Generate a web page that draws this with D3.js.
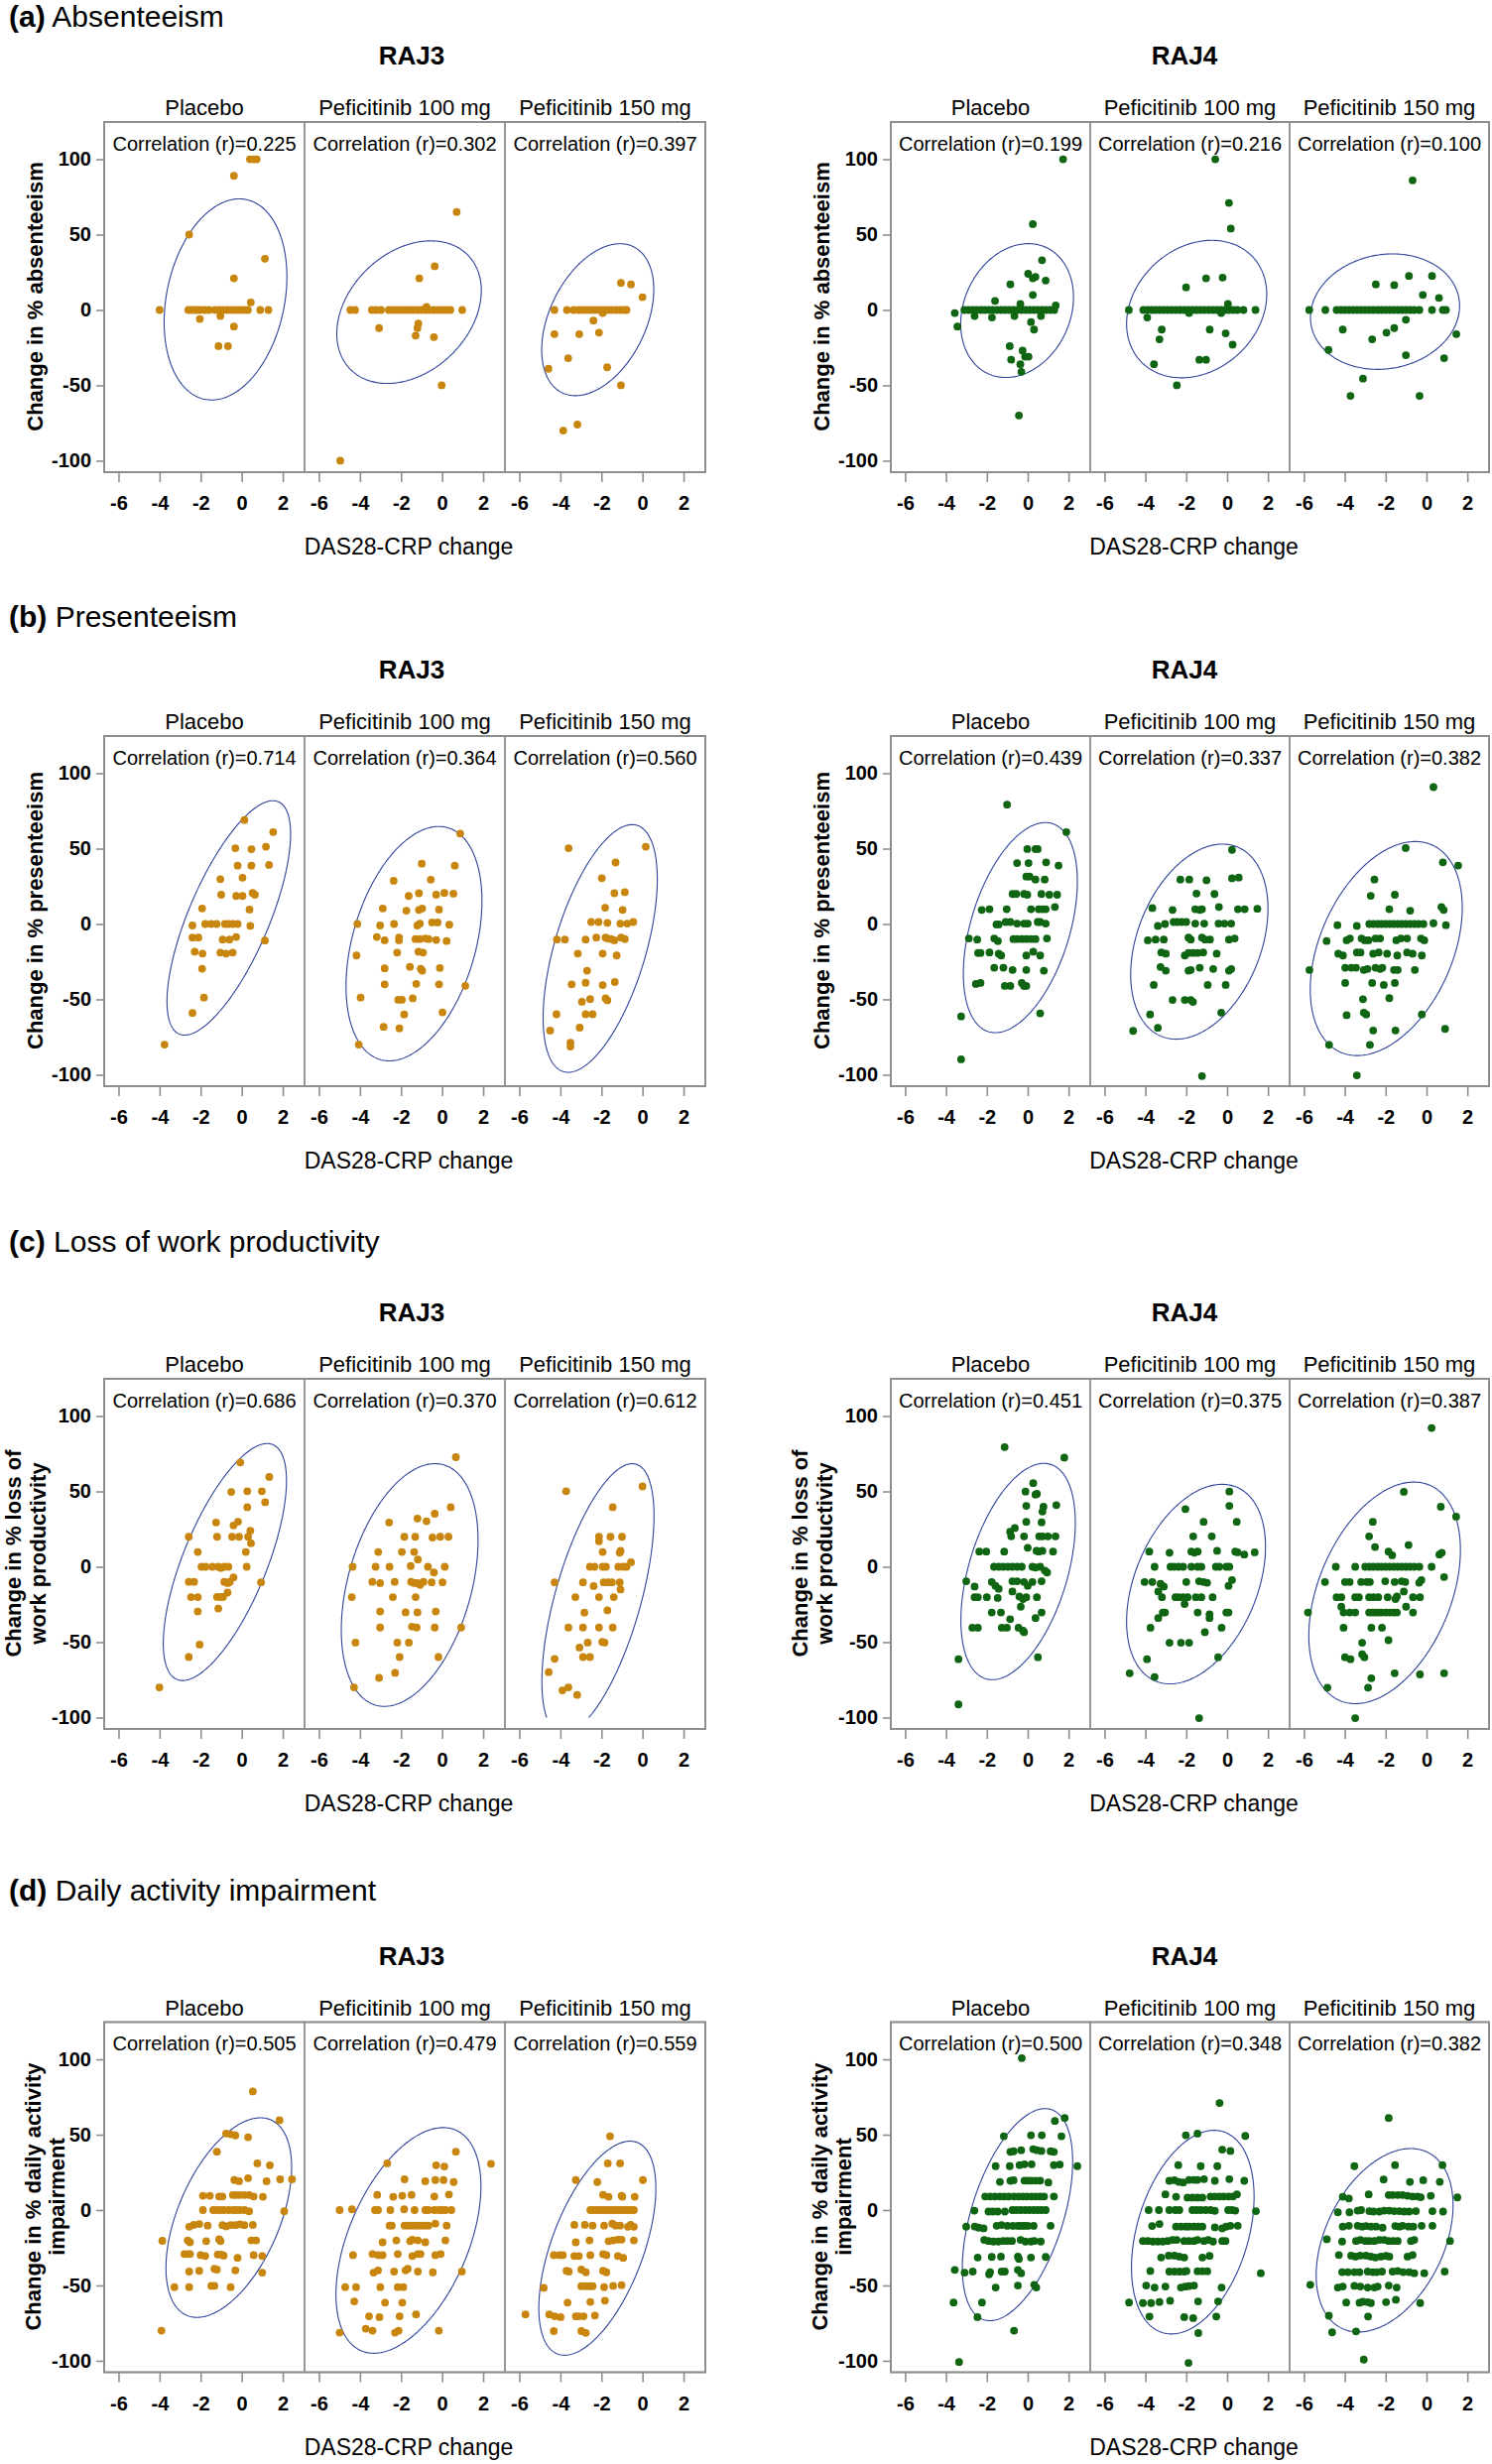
<!DOCTYPE html>
<html><head><meta charset="utf-8">
<script src="https://cdn.jsdelivr.net/npm/d3@7"></script>
<style>
body{margin:0;background:#fff}
svg{display:block}
text{font-family:"Liberation Sans",Arial,Helvetica,sans-serif;fill:#000}
</style>
</head><body>
<svg id="chart" width="1504" height="2484"></svg>
<script>
// ---------------- DATA ----------------
const sectionTags = ["(a)", "(b)", "(c)", "(d)"];
const sectionNames = ["Absenteeism", "Presenteeism", "Loss of work productivity", "Daily activity impairment"];
const yAxisLabels = [
  ["Change in % absenteeism"],
  ["Change in % presenteeism"],
  ["Change in % loss of", "work productivity"],
  ["Change in % daily activity", "impairment"]
];
const studies = ["RAJ3", "RAJ4"];
const arms = ["Placebo", "Peficitinib 100 mg", "Peficitinib 150 mg"];
const xTicks = [-6, -4, -2, 0, 2];
const yTicks = [-100, -50, 0, 50, 100];
const xLabel = "DAS28-CRP change";

// correlations [study][arm]
const corrAbs = [[0.225, 0.302, 0.397], [0.199, 0.216, 0.100]];
const corrPre = [[0.714, 0.364, 0.560], [0.439, 0.337, 0.382]];
const corrLwp = [[0.686, 0.370, 0.612], [0.451, 0.375, 0.387]];
const corrDai = [[0.505, 0.479, 0.559], [0.500, 0.348, 0.382]];

// ellipses: [centre x, centre y, half-width x, half-height y]
const ellAbs3 = [[-0.79, 7, 2.99, 66.7], [-1.61, -1.45, 3.52, 47.3], [-2.18, -6.45, 2.73, 50.4]];
const ellAbs4 = [[-0.52, -0.4, 2.76, 44.4], [-1.49, 0.6, 3.43, 45.6], [-2.03, -1.1, 3.65, 38.3]];
const ellPre3 = [[-0.63, 4.05, 3.01, 77.75], [-1.37, -13.05, 3.31, 77.75], [-2.06, -16.25, 2.78, 82.15]];
const ellPre4 = [[-0.36, -2.4, 2.79, 69.7], [-1.36, -11.7, 3.36, 64.7], [-1.97, -16.3, 3.72, 71]];
const ellLwp3 = [[-0.82, 3.15, 3.0, 78.6], [-1.58, -12.1, 3.33, 80.5], [-2.17, -21.2, 2.73, 89.6]];
const ellLwp4 = [[-0.47, -3.15, 2.8, 71.75], [-1.52, -11.5, 3.4, 66.2], [-2.05, -17.3, 3.71, 73.5]];
const ellDai3 = [[-0.63, -5, 3.06, 66.2], [-1.64, -20.15, 3.53, 74.85], [-2.2, -25.3, 2.85, 71]];
const ellDai4 = [[-0.5, -3.05, 2.7, 70.35], [-1.68, -14.65, 3.0, 67.55], [-2.05, -20.05, 3.35, 60.85]];

// points [DAS28-CRP change, % change]
const absRAJ3Placebo = [[-4.0,0],[-2.56,50],[-0.38,89],[0.4,100],[0.58,100],[0.73,100],[1.13,34],[-0.38,21],[0.44,5],
[-2.6,0],[-2.45,0],[-2.3,0],[-2.15,0],[-2.0,0],[-1.8,0],[-1.6,0],[-1.3,0],[-1.1,0],[-0.9,0],[-0.7,0],[-0.5,0],[-0.3,0],[-0.1,0],[0.1,0],[0.3,0],[0.9,0],[1.3,0],
[-2.04,-6],[-1.04,-4],[-0.38,-11],[-1.13,-24],[-0.67,-24]];
const absRAJ3P100 = [[-4.96,-100],[0.71,65],[-0.36,29],[-1.11,21],
[-4.47,0],[-4.24,0],[-3.42,0],[-3.2,0],[-2.98,0],[-2.6,0],[-2.4,0],[-2.2,0],[-2.0,0],[-1.8,0],[-1.6,0],[-1.4,0],[-1.2,0],[-1.0,0],[-0.8,0],[-0.6,0],[-0.4,0],[-0.2,0],[0,0],[0.2,0],[0.4,0],[0.98,0],
[-0.76,2],[-3.07,-12],[-1.16,-9],[-1.2,-12],[-1.29,-17],[-0.4,-18],[-0.02,-50]];
const absRAJ3P150 = [[-1.05,18],[-0.56,17],[0,8.5],
[-4.29,0],[-3.68,0],[-3.35,0],[-3.1,0],[-2.9,0],[-2.7,0],[-2.5,0],[-2.3,0],[-2.1,0],[-1.9,0],[-1.7,0],[-1.5,0],[-1.3,0],[-1.1,0],[-0.9,0],[-0.78,0],
[-1.94,-2],[-2.39,-7],[-4.29,-16],[-3.08,-16],[-2.12,-15],[-3.62,-32],[-4.58,-39],[-1.72,-38],[-1.05,-50],[-3.86,-80],[-3.17,-76]];
const absRAJ4Placebo = [[1.73,100],[0.25,57],[0.7,33],[0.02,24],[0.25,21],[0.38,22],[0.88,19.5],[-0.85,17],[0.25,10],[-1.6,6],[1.37,3],[-0.36,4],
[-3.1,0],[-2.9,0],[-2.7,0],[-2.5,0],[-2.3,0],[-2.1,0],[-1.9,0],[-1.7,0],[-1.5,0],[-1.3,0],[-1.1,0],[-0.9,0],[-0.7,0],[-0.5,0],[-0.3,0],[-0.1,0],[0.1,0],[0.3,0],[0.5,0],[0.7,0],[0.9,0],[1.1,0],[1.3,0],
[-3.57,-2],[-3.44,-11],[-2.6,-4],[-1.75,-5],[-0.65,-4],[0.65,-4],[0.16,-8],[0.31,-13],[-0.88,-24],[-0.81,-33],[-0.25,-27],[-0.13,-31],[0.04,-31],[-0.36,-36],[-0.31,-41],[-0.43,-70]];
const absRAJ4P100 = [[-0.58,100],[0.09,71],[0.18,54],[-1.03,21],[-0.22,21.5],[-2.01,15],[0.04,4],
[-4.81,0],[-4.1,0],[-3.9,0],[-3.7,0],[-3.5,0],[-3.3,0],[-3.1,0],[-2.9,0],[-2.7,0],[-2.5,0],[-2.3,0],[-2.1,0],[-1.9,0],[-1.7,0],[-1.5,0],[-1.3,0],[-1.1,0],[-0.9,0],[-0.7,0],[-0.5,0],[-0.3,0],[-0.1,0],[0.1,0],[0.3,0],[0.5,0],[0.8,0],[1.39,0],
[-3.91,-5],[-1.86,-2],[-0.29,-2],[-3.2,-13],[-3.31,-19.5],[-0.85,-13],[-0.07,-15.5],[0.27,-23],[-3.58,-36],[-1.36,-33],[-1.03,-33],[-2.46,-50]];
const absRAJ4P150 = [[-0.68,86],[-0.86,22.6],[0.27,22.6],[-2.48,17],[-1.58,16.5],[-0.18,10],[0.61,8],
[-5.74,0],[-4.95,0],[-4.4,0],[-4.2,0],[-4.0,0],[-3.8,0],[-3.6,0],[-3.4,0],[-3.2,0],[-3.0,0],[-2.8,0],[-2.6,0],[-2.4,0],[-2.2,0],[-2.0,0],[-1.8,0],[-1.6,0],[-1.4,0],[-1.2,0],[-1.0,0],[-0.8,0],[-0.6,0],[-0.35,0],[0.27,0],[0.8,0],[0.95,0],
[1.46,-16],[-1.01,-6.5],[-1.58,-12],[-1.96,-15],[-4.1,-13],[-2.66,-19.5],[-4.8,-26.5],[-1.01,-30],[0.86,-32],[-3.11,-45.5],[-3.72,-57],[-0.34,-57]];

const preRAJ3Placebo = [[0.13,69],[1.53,61],[-0.31,50.3],[0.47,49.6],[1.18,51.3],[-0.2,38.7],[0.47,38.7],[1.33,39.2],[-1.04,29.7],[0.04,30.7],[-1.0,19.4],[-0.27,18.6],[0.04,18.6],[0.53,20.6],[0.64,19.4],[-1.93,10.3],[0.38,9.6],[-2.4,-1],[-1.78,0],[-1.49,0],[-1.22,0],[-0.82,0],[-0.64,0],[-0.44,0],[-0.2,0],[0.42,-1.3],[-2.4,-9],[-2.11,-9],[-0.93,-10.3],[-0.6,-10.3],[-0.27,-8.6],[1.13,-11],[-2.29,-18.4],[-1.91,-19.6],[-1.04,-19],[-0.76,-19.6],[-0.44,-19],[-1.93,-29.7],[-1.84,-48.8],[-2.4,-59],[-3.76,-80]];
const preRAJ3P100 = [[0.88,60],[-0.99,40],[0.62,38.7],[-2.36,28.7],[-0.55,29.4],[-1.63,18.6],[-1.13,20.4],[-0.29,19.4],[0.11,20.6],[0.55,20.1],[-2.89,10.3],[-1.74,8.8],[-1.13,9.3],[-0.97,10.3],[-0.15,9.6],[-4.13,0],[-3.02,-1],[-2.34,0],[-1.21,-1],[-1.08,0.3],[-0.49,1],[-0.22,1],[0.35,-0.5],[-3.18,-8.6],[-2.8,-10.8],[-2.1,-9],[-2.1,-10.8],[-1.3,-10],[-1.1,-10],[-0.82,-9.6],[-0.66,-10],[-0.29,-10.6],[0.22,-11.3],[-4.17,-20.9],[-2.19,-19],[-1.15,-18.4],[-0.93,-19],[-2.8,-29.4],[-1.57,-28.4],[-1.04,-29.7],[-0.97,-31],[-0.11,-29.2],[-2.8,-40],[-1.26,-39.7],[-0.15,-40],[1.13,-41],[-3.97,-48.8],[-2.14,-50.3],[-1.96,-50.3],[-1.43,-49.3],[-1.85,-60],[0.02,-58.6],[-2.85,-68.2],[-2.08,-69.2],[-4.06,-80]];
const preRAJ3P150 = [[-3.6,50.3],[0.16,51.3],[-1.31,40.8],[-1.98,30.4],[-1.37,20.4],[-0.86,21.1],[-1.82,10.8],[-0.97,9.3],[-2.5,1.3],[-2.14,1.3],[-1.71,0.8],[-1.08,0.3],[-0.74,0.3],[-0.45,1.3],[-4.17,-10.3],[-3.78,-10.3],[-2.77,-10.3],[-2.25,-9],[-1.8,-9],[-1.71,-9.6],[-1.53,-10],[-1.37,-10.8],[-1.04,-9],[-0.86,-10],[-3.15,-19.6],[-1.94,-19.6],[-1.26,-20.9],[-2.7,-31],[-3.45,-40],[-2.77,-39],[-1.94,-40.5],[-1.35,-38.5],[-2.55,-49.8],[-1.8,-49.3],[-1.71,-50.6],[-2.95,-51.6],[-4.19,-59.9],[-2.77,-59.9],[-2.43,-59.9],[-3.06,-68.7],[-4.5,-70.7],[-3.51,-78.7],[-3.51,-81.3]];
const preRAJ4Placebo = [[-1.01,79.2],[1.89,61],[-3.26,-61.3],[-3.26,-89.8],[0.61,-59.3],[-0.02,49.7],[0.38,49.7],[0.49,49.7],[-0.52,40.4],[0.04,40.4],[0.9,40.9],[1.51,38.8],[-0.07,31.5],[0.09,31.5],[0.38,29.5],[0.83,29.5],[-0.74,19.9],[-0.56,19.9],[-0.18,19.9],[-0.02,19.4],[0.67,19.9],[1.06,19.4],[1.44,19.4],[-2.25,9.3],[-1.87,9.8],[-1.03,9.8],[0.16,9.8],[0.54,9.8],[0.72,9.8],[0.88,9.8],[1.33,11.3],[-1.53,-0.3],[-1.42,-0.3],[-1.08,1.3],[-0.85,1.3],[-0.52,0.3],[-0.18,0.3],[0,0.3],[0.49,1.3],[0.61,1.3],[0.88,0.3],[-2.88,-9.6],[-2.47,-10.3],[-1.64,-9.6],[-1.46,-11.3],[-0.7,-10],[-0.52,-10],[-0.29,-10],[-0.07,-10],[0.16,-10],[0.38,-10],[0.94,-9.6],[-2.43,-19.2],[-2.31,-19.2],[-1.87,-18.9],[-1.42,-19.7],[-1.3,-20.9],[-0.07,-20.9],[0.27,-18.4],[0.61,-20.9],[-1.64,-29],[-1.19,-29],[-0.74,-30.5],[-0.07,-30.5],[0.79,-31],[-2.54,-39.8],[-2.31,-39.1],[-1.12,-41.1],[-0.85,-41.1],[-0.29,-39.1],[-0.18,-41.1],[-0.07,-41.1]];
const preRAJ4P100 = [[0.24,49.2],[0.24,30.3],[0.57,30.8],[-2.29,29.5],[-1.85,29.5],[-1.01,29],[-1.5,20.2],[-0.62,19.9],[-3.66,10.6],[-2.67,9.3],[-1.56,9.8],[-1.34,9.3],[-1.23,9.8],[-0.4,11.3],[0.53,9.8],[0.86,9.8],[1.48,10.1],[-3.39,-1.3],[-3.04,0],[-2.62,1.3],[-2.44,1.3],[-2.22,1.3],[-2.0,1.3],[-1.56,0.3],[-1.12,0.3],[-0.42,0.3],[-0.13,0.3],[0.2,0.3],[-3.88,-10.8],[-3.5,-10.3],[-3.1,-10.3],[-1.89,-9],[-1.78,-10.3],[-1.23,-9],[-1.08,-10.3],[-0.84,-10.3],[0.09,-10.3],[0.37,-9.6],[-3.22,-18.9],[-3.0,-19.7],[-2.07,-20.9],[-1.89,-19.2],[-1.67,-19.2],[-1.45,-19.2],[-1.17,-18.9],[-0.51,-19.7],[-3.26,-28.5],[-3.0,-31],[-1.89,-31],[-1.78,-30.5],[-1.34,-29],[-0.68,-29.8],[0.09,-31],[0.2,-29.8],[-3.59,-40.4],[-0.95,-40.4],[-0.07,-40.4],[-2.67,-50.4],[-2.07,-50.4],[-1.78,-50.4],[-1.67,-51.7],[-3.77,-60],[-0.29,-58.8],[-3.39,-68.9],[-4.6,-70.9],[-1.23,-100.9]];
const preRAJ4P150 = [[0.34,90.8],[-1.02,50.4],[0.8,40.9],[1.55,38.8],[-2.55,29.5],[-2.73,18.7],[-1.55,19.4],[-1.82,9.8],[-0.8,8.8],[0.73,11.3],[0.84,9.3],[-4.36,-0.8],[-3.41,-1.3],[-2.8,0],[-2.6,0],[-2.4,0],[-2.2,0],[-2.0,0],[-1.8,0],[-1.6,0],[-1.4,0],[-1.2,0],[-1.0,0],[-0.8,0],[-0.6,0],[-0.4,0],[-0.15,0],[0.34,0.5],[0.95,-0.8],[-4.89,-11.3],[-3.91,-10.8],[-3.75,-9.6],[-3.18,-9.6],[-3.02,-10.8],[-2.84,-10.8],[-2.5,-9.6],[-2.27,-9.6],[-1.48,-10.8],[-1.25,-9.6],[-0.95,-9.6],[-0.27,-9.6],[-0.11,-10.8],[-4.32,-19.7],[-4.09,-20.9],[-3.41,-18.9],[-3.23,-18.9],[-2.61,-19.7],[-2.34,-18.9],[-1.93,-19.7],[-1.43,-20.9],[-0.95,-18.9],[-0.68,-19.7],[-0.23,-20.9],[-5.73,-30.5],[-3.98,-29],[-3.68,-29],[-3.45,-29],[-3.07,-30.5],[-2.89,-29.8],[-2.5,-29],[-2.27,-29.8],[-2.16,-29],[-1.59,-30.5],[-1.41,-30.5],[-0.57,-30.5],[-3.98,-39.1],[-2.66,-39.1],[-2.09,-40.4],[-1.55,-39.1],[-3.11,-49.9],[-1.82,-49.2],[-3.91,-60.5],[-3.07,-58.8],[-2.95,-60],[-0.23,-60],[-2.61,-70.6],[-1.52,-70.6],[0.91,-69.6],[-4.77,-80.2],[-2.77,-80.2],[-3.41,-100.4]];

const lwpRAJ3Placebo = [[-0.07,69.2],[1.34,59.6],[-0.51,49.6],[0.27,50.1],[0.98,50.1],[1.14,42.8],[0.27,39.5],[-1.25,29.4],[-0.18,29.9],[-0.4,27.4],[0.42,23.9],[-1.2,19.9],[-0.47,19.9],[-0.13,19.9],[0.31,19.9],[-2.58,19.9],[0.45,15.6],[-2.14,9.8],[0.2,9.8],[-1.96,0],[-1.76,0],[-1.43,0],[-1.14,0],[-0.85,0],[-0.65,0],[-1.02,-0.8],[0.24,0],[-2.58,-10],[-2.32,-10],[-0.85,-10],[-0.69,-10.8],[-0.58,-10],[-0.4,-7],[0.94,-10.3],[-2.47,-20.1],[-2.14,-20.1],[-1.2,-20],[-1.02,-20],[-0.91,-20],[-0.69,-17.1],[-2.14,-29.7],[-1.14,-27.7],[-2.05,-51.6],[-2.58,-59.9],[-4.01,-80]];
const lwpRAJ3P100 = [[0.67,72.7],[0.42,39.5],[-1.2,32],[-0.76,30.2],[-0.36,35.2],[-2.58,29.4],[-1.84,19.9],[-1.31,19.9],[-0.47,19.4],[-0.09,19.9],[0.31,19.9],[-3.11,9.8],[-1.96,9.8],[-1.36,9.8],[-1.18,4.8],[-4.36,0],[-3.24,0],[-2.56,0],[-1.53,0.5],[-0.69,0],[0.13,0],[-0.4,-3.8],[-3.4,-10],[-3.02,-10.8],[-2.31,-10],[-1.51,-10],[-1.36,-10.8],[-1.2,-10.8],[-1.07,-12],[-0.91,-10],[-0.51,-10.3],[0.02,-10.3],[-4.4,-20.1],[-2.4,-20.1],[-1.29,-20.1],[-3.02,-29.7],[-1.78,-30.2],[-1.2,-30.2],[-0.31,-29.7],[-3.02,-40.3],[-1.47,-39.7],[-1.24,-40.3],[-0.36,-40.3],[0.93,-40.3],[-4.22,-50.3],[-2.18,-50.3],[-1.62,-50.3],[-2.07,-59.9],[-0.18,-59.9],[-2.29,-70.4],[-3.07,-73.7],[-4.29,-80]];
const lwpRAJ3P150 = [[-3.72,50.1],[0,53.3],[-1.45,39.5],[-2.12,19.9],[-1.56,19.9],[-1.0,19.9],[-2.12,16.9],[-1.94,9.8],[-1.07,10.6],[-1.11,9.3],[-2.56,0],[-2.34,0],[-1.94,0],[-1.78,0],[-1.18,0],[-0.96,0],[-0.78,0],[-0.56,3],[-4.28,-10.3],[-2.9,-10.3],[-2.38,-12.8],[-1.89,-10.3],[-1.67,-10.3],[-1.49,-10.3],[-1.11,-10.3],[-3.27,-20.1],[-2.12,-20.1],[-1.4,-20.1],[-1.07,-15.1],[-2.83,-30.4],[-1.71,-28.9],[-3.61,-40.3],[-2.9,-40.3],[-2.12,-40.3],[-1.45,-40.3],[-2.67,-50.3],[-1.96,-49.8],[-1.85,-50.3],[-3.07,-53.6],[-4.28,-61.1],[-2.9,-59.9],[-2.56,-59.9],[-4.57,-69.9],[-3.9,-82],[-3.61,-80],[-3.18,-85]];
const lwpRAJ4Placebo = [[-1.13,79.4],[1.79,72.4],[-3.39,-61.3],[-3.39,-91.3],[0.5,-60],[0.27,55.5],[-0.11,49.9],[0.38,47.9],[0.45,48.4],[-0.07,40.4],[0.77,39.8],[0.72,36.6],[1.4,40.9],[-0.07,29.8],[0.68,29.5],[-0.63,25.7],[-0.86,23.2],[-0.81,20.2],[-0.18,20.2],[0.56,20.2],[0.72,20.2],[0.99,20.2],[1.36,20.2],[0,12.6],[-2.37,10.1],[-2.03,10.1],[-1.15,10.1],[0.43,10.6],[0.54,10.1],[0.72,10.6],[1.24,10.1],[-1.65,0],[-1.42,0],[-1.2,0],[-0.97,0],[-0.75,0],[-0.52,0],[-0.29,0],[0.23,0],[0.38,-0.5],[0.61,0],[0.84,-2.5],[0.95,-3.8],[-3.01,-9.6],[-2.6,-13.1],[-1.76,-10.1],[-1.58,-12.6],[-1.42,-14.6],[-0.75,-9.6],[-0.52,-9.6],[-0.18,-10.1],[0,-12.6],[0.23,-10.1],[0.68,-9.6],[-0.75,-16.4],[-2.6,-20.2],[-2.44,-20.2],[-2.0,-20.2],[-1.47,-20.7],[-0.41,-19.7],[-0.23,-21.4],[-0.07,-20.2],[0.45,-20.2],[-0.34,-26.5],[-1.76,-30.3],[-1.31,-30.3],[0.68,-30.3],[0.38,-34],[-0.86,-34.8],[-2.71,-40.4],[-2.44,-40.4],[-1.27,-40.4],[-1.02,-40.4],[-0.45,-40.4],[-0.23,-42.4],[-0.18,-43.4]];
const lwpRAJ4P100 = [[0.11,49.9],[0.11,40.4],[-2.04,38.3],[-1.15,29.8],[0.47,29.8],[-1.66,20.2],[-0.75,20.2],[-3.81,10.1],[-2.82,9.3],[-1.75,10.1],[-1.6,9.3],[-1.44,10.1],[-0.49,10.6],[0.4,10.1],[0.51,9.6],[0.84,8.1],[1.35,9.6],[-3.55,0],[-2.77,0],[-2.59,0],[-2.37,0],[-2.15,0],[-1.75,0],[-1.44,0],[-1.26,0],[-0.55,0],[-0.38,0],[-0.04,0],[0.11,0],[-4.04,-10.1],[-3.66,-10.1],[-3.26,-11.3],[-3.1,-13.1],[-2.0,-10.1],[-1.37,-9.6],[-1.15,-10.1],[-0.98,-10.6],[0.07,-12.6],[0.24,-8.8],[-3.37,-16.4],[-3.19,-20.2],[-2.53,-20.2],[-2.37,-20.2],[-2.15,-20.2],[-1.93,-20.2],[-1.53,-20.2],[-1.26,-20.2],[-0.71,-20.2],[-2.08,-24.7],[-3.15,-30.3],[-3.04,-30.3],[-1.44,-30.3],[-0.86,-31.5],[-0.86,-34],[-0.04,-30.3],[0.07,-30.3],[-3.37,-34],[-3.75,-40.4],[-0.27,-40.4],[-1.09,-43.4],[-2.82,-50.4],[-2.26,-50.4],[-1.86,-50.4],[-3.92,-61.3],[-0.44,-60],[-4.77,-70.6],[-3.55,-73.1],[-1.37,-100.4]];
const lwpRAJ4P150 = [[0.25,92.1],[-1.11,49.7],[0.7,39.8],[1.45,33.3],[-2.63,29.8],[-2.81,20.2],[-2.52,13.1],[-0.88,14.4],[-1.86,10.1],[-1.68,7.6],[0.63,8.1],[0.75,9.3],[-4.44,0],[-3.49,0],[-3.0,0],[-2.8,0],[-2.6,0],[-2.4,0],[-2.2,0],[-2.0,0],[-1.8,0],[-1.6,0],[-1.4,0],[-1.2,0],[-1.0,0],[-0.8,0],[-0.6,0],[-0.35,0],[0.25,0],[0.86,-6.8],[-4.97,-10.1],[-3.99,-10.1],[-3.76,-10.1],[-3.2,-10.1],[-2.93,-10.1],[-2.77,-10.1],[-2.02,-9.6],[-1.56,-10.1],[-1.22,-9.6],[-1.04,-10.1],[-0.36,-10.6],[-0.25,-8.8],[-1.11,-16.4],[-4.4,-20.2],[-4.17,-20.2],[-3.49,-20.2],[-3.31,-20.2],[-2.81,-20.2],[-2.59,-20.2],[-2.36,-20.2],[-1.9,-20.2],[-1.52,-21.4],[-1.45,-19.7],[-0.66,-20.2],[-0.32,-20.2],[-4.17,-26.5],[-5.8,-30.3],[-4.06,-30.3],[-3.76,-30.3],[-3.49,-30.3],[-2.81,-30.3],[-2.65,-30.3],[-2.5,-30.3],[-2.36,-30.3],[-2.2,-30.3],[-2.0,-30.3],[-1.8,-30.3],[-1.6,-30.3],[-1.45,-30.3],[-1.0,-26.5],[-0.66,-30.3],[-4.06,-40.4],[-2.7,-40.4],[-2.18,-40.4],[-3.15,-50.4],[-1.86,-48.7],[-3.99,-60],[-3.72,-61.3],[-3.15,-58],[-3.04,-60],[-2.7,-73.9],[-1.56,-70.6],[-0.32,-71.4],[0.86,-70.6],[-4.85,-80.2],[-2.86,-80.2],[-3.49,-100.4]];

const daiRAJ3Placebo = [[0.54,78.7],[1.84,59.6],[-0.76,50.8],[-0.54,50.3],[-0.31,49.5],[0.31,48.3],[-1.21,38.7],[0.76,31],[1.37,29.7],[-0.36,19.9],[-0.13,19.1],[0.31,21.2],[1.21,19.1],[1.87,20.4],[2.45,20.4],[-1.89,9.5],[-1.55,9.5],[-1.1,9],[-0.94,9],[-0.43,10],[-0.27,10],[-0.09,10],[0.13,10],[0.36,10],[0.58,9],[1.03,8.8],[-1.89,0],[-1.39,0],[-1.21,0],[-1.03,0],[-0.88,0],[-0.65,0],[-0.43,0],[-0.27,0],[-0.09,0],[0.13,0],[0.36,-0.8],[2.07,-0.8],[-2.56,-11.1],[-2.34,-9.8],[-2.07,-9.3],[-1.66,-10.3],[-0.94,-10],[-0.76,-10.8],[-0.54,-10],[-0.31,-10],[-0.09,-9.5],[0.13,-10],[0.54,-9.8],[-2.63,-20.1],[-2.52,-21.4],[-1.73,-20.6],[-1.1,-19.4],[-1.03,-20.6],[0.47,-20.1],[0.7,-20.1],[-3.87,-20.4],[-2.79,-29.2],[-2.61,-29.2],[-2.52,-29.2],[-2.0,-29.9],[-1.78,-30.5],[-1.17,-29.5],[-0.99,-29.5],[-0.88,-30.2],[-0.2,-31.7],[0.58,-29.9],[1.0,-30.5],[-2.56,-40.8],[-2.07,-40.3],[-1.33,-39],[-1.21,-39.5],[-0.31,-40],[1.0,-41.5],[-3.28,-51.1],[-2.56,-51.1],[-1.48,-50.3],[-1.33,-50.3],[-0.54,-51.1],[-3.91,-80]];
const daiRAJ3P100 = [[2.38,30.7],[0.67,38.7],[-2.67,31],[-0.29,29.7],[0.11,28.9],[-1.83,20.4],[-0.82,19.1],[-0.33,19.9],[0.07,19.9],[0.56,18.6],[-3.16,10.1],[-2.38,8.8],[-1.94,9.5],[-1.49,10.1],[-0.38,9],[0.33,10.3],[-4.99,0],[-4.39,0.5],[-3.27,0],[-3.12,0],[-2.52,0],[-1.85,0.5],[-1.34,0],[-0.82,0],[-0.67,0],[-0.38,0],[-0.16,0],[0,0],[0.16,0],[0.45,0],[-2.56,-10.3],[-2.45,-10.3],[-1.83,-10.3],[-1.67,-10.3],[-1.49,-10.3],[-1.34,-10.3],[-1.18,-10.3],[-1.0,-10.3],[-0.82,-10.3],[-0.67,-10.3],[-0.33,-9],[0.22,-10.3],[-2.9,-21.4],[-2.23,-20.1],[-1.56,-20.6],[-1.45,-19.6],[-1.18,-20.1],[-0.82,-21.4],[0.16,-20.1],[-4.34,-29.9],[-3.39,-29.2],[-3.1,-29.9],[-2.9,-29.9],[-2.16,-29.2],[-1.45,-30.5],[-1.18,-29.2],[-1.05,-29.2],[-0.33,-29.9],[-0.07,-29.2],[-3.34,-41.5],[-3.12,-40],[-2.34,-40.8],[-1.78,-40],[-1.67,-39],[-1.18,-40.8],[-0.45,-41.3],[0.96,-40.8],[-4.72,-51.1],[-4.19,-51.1],[-3.01,-51.1],[-2.16,-51.1],[-1.89,-51.1],[-4.28,-60.6],[-2.78,-61.4],[-1.94,-61.4],[-3.56,-70.5],[-3.05,-71],[-2.07,-70.5],[-1.27,-69.2],[-3.72,-78.7],[-3.39,-80],[-2.29,-81.3],[-2.12,-80],[-0.16,-80],[-4.99,-81.3]];
const daiRAJ3P150 = [[-1.58,49],[-3.25,19.9],[-2.2,18.6],[-1.69,31],[-1.09,31],[0.02,19.9],[-1.92,10.1],[-1.65,8.8],[-1.02,9.5],[-0.98,8.8],[-0.38,8.8],
[-2.54,0],[-2.4,0],[-2.25,0],[-2.1,0],[-1.92,0],[-1.78,0],[-1.6,0],[-1.45,0],[-1.3,0],[-1.15,0],[-1.0,0],[-0.85,0],[-0.7,0],[-0.55,0],[-0.42,0],
[-3.32,-9.8],[-2.81,-9.8],[-2.43,-10.3],[-1.87,-10.3],[-1.47,-9],[-1.31,-10.3],[-1.09,-10.3],[-0.71,-11.1],[-0.58,-9.8],[-0.42,-11.1],[-3.25,-21.4],[-2.58,-20.1],[-1.65,-20.6],[-1.43,-20.1],[-1.2,-19.6],[-1.02,-19.6],[-0.42,-20.1],[-4.32,-29.9],[-4.05,-29.9],[-3.88,-29.9],[-3.32,-30.5],[-3.1,-30.5],[-2.54,-29.9],[-1.92,-29.2],[-1.76,-29.9],[-1.2,-30.5],[-0.94,-31.7],[-3.7,-40.3],[-3.59,-40.8],[-2.98,-39.5],[-2.76,-41.3],[-1.92,-40.3],[-1.76,-41.3],[-4.81,-51.6],[-2.98,-50.5],[-2.76,-50.5],[-2.58,-50.5],[-2.43,-50.5],[-1.87,-51.1],[-1.43,-50.3],[-1.02,-49.8],[-3.65,-61.4],[-2.54,-60.9],[-1.83,-60.1],[-5.7,-69.2],[-4.54,-69.2],[-4.28,-70.5],[-3.99,-71],[-3.25,-70.5],[-3.1,-70.5],[-2.87,-70.5],[-2.32,-70],[-4.32,-80.3],[-2.98,-80.3],[-2.76,-81.5]];
const daiRAJ4Placebo = [[-0.29,100.8],[1.81,61.1],[1.33,59.1],[-1.17,49],[0.16,49.6],[0.69,49.6],[1.65,49],[-0.85,38.6],[-0.69,39],[-0.32,39.7],[0.27,40.4],[0.45,39.7],[0.67,39.2],[1.12,39],[1.28,38.6],[-1.57,29.1],[-0.88,29.1],[-0.4,29.8],[-0.16,30.4],[0.19,30.4],[1.28,29.8],[1.57,30.2],[2.43,29.1],[-1.36,18.7],[-0.85,19.4],[-0.69,19.8],[-0.16,19.5],[0,19.5],[0.19,19.5],[0.4,19.5],[0.61,19.5],[1.01,18.3],[-2.08,9],[-1.84,9],[-1.6,9],[-1.36,9],[-1.15,9],[-0.93,9],[-0.67,9],[-0.45,9],[-0.24,9],[-0.03,9],[0.19,9],[0.4,9],[0.61,9],[0.8,9],[1.28,9],[-2.61,-0.4],[-1.92,-1],[-1.71,-1],[-1.47,-1],[-1.12,-1],[-0.75,0],[-0.56,0],[-0.35,0],[-0.13,0],[0.08,0],[0.29,0],[0.48,0],[0.67,0],[0.88,0],[-3.01,-11],[-2.59,-11],[-2.4,-11.7],[-2.16,-12.1],[-1.52,-10.4],[-1.28,-9.9],[-0.99,-10.5],[-0.72,-10.5],[-0.48,-10.5],[-0.32,-10.5],[-0.16,-10.5],[0,-10.5],[0.29,-10.5],[1.12,-10.4],[-2.13,-19.8],[-1.92,-20.5],[-1.68,-20.9],[-1.44,-20.9],[-1.2,-20.5],[-0.99,-20.5],[-0.77,-20.5],[-0.35,-19.8],[-0.11,-20.9],[0.16,-20.9],[0.32,-20.5],[0.64,-20.9],[-2.45,-31.5],[-1.76,-31.1],[-1.31,-30.9],[-0.48,-30.9],[-0.43,-32.4],[0.16,-31.5],[0.88,-31.1],[-3.57,-39.7],[-3.09,-41.5],[-2.69,-40.8],[-1.84,-41.2],[-1.89,-42.6],[-1.28,-40.8],[-1.12,-40.8],[-0.48,-39.7],[-0.32,-41.9],[-1.57,-51.4],[-0.48,-50.1],[0.32,-49.6],[0.42,-51.4],[-3.63,-61.3],[-2.24,-61.3],[-2.46,-71],[-0.67,-80],[-3.36,-100.8]];
const daiRAJ4P100 = [[-0.37,71],[-2.02,49.6],[-1.45,50.7],[0.89,49.2],[-0.24,40.1],[0.16,39.2],[-2.39,29.8],[-1.29,29.1],[-0.48,29.1],[-2.83,19.4],[-2.58,19.8],[-2.37,18.7],[-2.15,18.3],[-1.86,20],[-1.62,20],[-1.45,20],[-1.13,20.5],[-0.6,19.4],[0.11,20.5],[0.84,19.4],[-3.02,10.4],[-2.5,8.8],[-1.94,8.3],[-1.7,8.3],[-1.45,8.3],[-1.21,8.3],[-0.81,9],[-0.6,9],[-0.37,9],[-0.16,9],[0.08,9],[0.29,9],[0.48,10.4],[-3.84,0],[-3.34,0],[-2.83,0],[-2.54,0],[-2.34,0],[-1.7,0],[-1.5,0],[-1.29,0],[-1.05,0],[-0.81,0],[-0.6,-0.5],[0.05,0],[0.24,0],[0.4,-0.4],[1.41,-0.7],[-3.67,-10.6],[-3.31,-9.3],[-2.5,-11],[-2.26,-11],[-2.02,-11],[-1.86,-11],[-1.62,-11],[-1.41,-11],[-1.21,-11],[-0.6,-11.5],[-0.24,-12.1],[-0.05,-11],[0.16,-10.4],[0.52,-10.4],[-4.12,-20.5],[-3.88,-20.5],[-3.63,-20.9],[-3.39,-20.9],[-3.15,-20.9],[-2.91,-20.5],[-2.67,-19.8],[-2.47,-19.8],[-2.1,-20.5],[-1.86,-20.5],[-1.62,-20.5],[-1.45,-19.8],[-1.13,-20.5],[-0.92,-19.8],[-0.69,-20.9],[-0.24,-20.5],[-0.08,-20.5],[-3.23,-31.5],[-2.86,-30.2],[-2.58,-30.2],[-2.34,-30.9],[-2.1,-31.5],[-1.21,-31.5],[-0.86,-30.4],[-3.76,-40.4],[-2.83,-40.8],[-2.58,-40.8],[-2.34,-40.8],[-2.1,-40.8],[-1.99,-40.4],[-1.45,-40.6],[-1.21,-40.6],[-0.97,-40.6],[1.65,-41.9],[-3.96,-50.1],[-3.55,-51.4],[-3.02,-50.7],[-2.26,-51.4],[-2.05,-50.8],[-1.86,-50.4],[-1.62,-50.1],[-0.27,-51.4],[-4.8,-61.3],[-4.12,-61.7],[-3.72,-61.7],[-3.31,-61],[-2.79,-60.2],[-1.42,-60.6],[-0.44,-60.6],[-3.8,-70.6],[-2.1,-71],[-1.66,-71.7],[-0.53,-70.6],[-1.41,-81.6],[-1.89,-101.4]];
const daiRAJ4P150 = [[-1.85,61.1],[-3.53,29.1],[-1.54,29.8],[0.78,29.8],[-2.1,20.3],[-0.81,18.7],[-0.16,19.8],[0.65,18.7],[-4.1,8.8],[-3.8,7.7],[-2.83,10.4],[-1.85,10],[-1.66,10],[-1.41,10],[-1.17,10],[-0.93,9.5],[-0.68,9],[-0.44,9],[-0.28,8.5],[0.21,9.5],[1.51,8.4],[-4.34,-1.5],[-3.77,-1.5],[-3.37,-0.4],[-3.2,0],[-2.8,-0.7],[-2.6,-1],[-2.31,-1],[-2.07,-0.4],[-1.82,-0.4],[-1.58,-0.7],[-1.33,-0.7],[-1.09,-1],[-0.85,-1],[-0.52,-0.7],[0.29,-0.7],[0.81,-1],[-4.88,-19.4],[-4.1,-11],[-3.8,-10.4],[-3.37,-10.4],[-3.15,-11],[-2.96,-10.6],[-2.72,-11],[-2.47,-11],[-2.15,-11.7],[-1.53,-10.6],[-1.33,-11],[-1.17,-10.4],[-0.88,-11],[-0.65,-11],[-0.24,-10.4],[0.29,-10.4],[-4.13,-20.9],[-3.45,-20.5],[-3.24,-19.8],[-2.99,-20.5],[-2.8,-20.5],[-2.55,-20.5],[-2.31,-19.8],[-2.07,-19.8],[-1.85,-20.5],[-1.63,-20.5],[-1.41,-20.5],[-0.76,-20.5],[-0.6,-19.8],[1.15,-20.5],[-4.29,-29.8],[-3.69,-30.2],[-3.48,-30.9],[-3.25,-30.2],[-2.96,-30.2],[-2.72,-30.9],[-2.5,-31.5],[-2.23,-30.9],[-1.98,-30.4],[-1.82,-30.9],[-0.93,-30.9],[-0.68,-29.8],[-4.13,-41.2],[-3.85,-41.2],[-3.53,-41.2],[-3.28,-41.2],[-2.88,-40.8],[-2.63,-41.2],[-2.44,-41.2],[-2.18,-40.8],[-1.66,-40.8],[-1.41,-40.4],[-1.14,-41.2],[-0.85,-41.2],[-0.6,-41.9],[-0.11,-41.9],[0.89,-40.8],[-5.69,-49.6],[-4.34,-51.4],[-4.1,-50.7],[-3.53,-50.3],[-3.24,-50.7],[-2.88,-51.4],[-2.55,-51.4],[-2.39,-50.7],[-1.85,-50.1],[-1.46,-51.4],[-3.93,-61.3],[-3.28,-61.5],[-3.12,-60.8],[-2.88,-61.1],[-2.72,-61.7],[-1.98,-61.1],[-1.5,-59.5],[-0.31,-61.7],[-4.78,-70.1],[-2.86,-70.6],[-4.62,-81.1],[-3.45,-80.5],[-3.07,-99.2]];

// ---------------- ASSEMBLY ----------------
const pointsBySection = [
  [[absRAJ3Placebo, absRAJ3P100, absRAJ3P150], [absRAJ4Placebo, absRAJ4P100, absRAJ4P150]],
  [[preRAJ3Placebo, preRAJ3P100, preRAJ3P150], [preRAJ4Placebo, preRAJ4P100, preRAJ4P150]],
  [[lwpRAJ3Placebo, lwpRAJ3P100, lwpRAJ3P150], [lwpRAJ4Placebo, lwpRAJ4P100, lwpRAJ4P150]],
  [[daiRAJ3Placebo, daiRAJ3P100, daiRAJ3P150], [daiRAJ4Placebo, daiRAJ4P100, daiRAJ4P150]]
];
const corrBySection = [corrAbs, corrPre, corrLwp, corrDai];
const ellBySection = [[ellAbs3, ellAbs4], [ellPre3, ellPre4], [ellLwp3, ellLwp4], [ellDai3, ellDai4]];

// ---------------- LAYOUT ----------------
const frameTops = [123, 742, 1390, 2038.5];
const titleBaselines = [27, 632, 1262, 1916];
const yLabelOffsets = [[-70], [-70], [-92, -67], [-72, -48]];
const FRAME_H = 353;
const frameLeft = [105, 898];
const panelW = [202, 201];
const studyTitleX = [415, 1194];
const xDomain = [-6.7, 3.06];
const yDomain = [-107.6, 124.7];
const dotColors = ["#c8860f", "#0f6512"];
const frameColor = "#8e8e8e";
const ellColor = "#30449a";

const svg = d3.select("#chart");
svg.append("rect").attr("width", 1504).attr("height", 2484).attr("fill", "#fff");
const defs = svg.append("defs");
const fmt = d => String(d);

sectionTags.forEach((tag, k) => {
  const T = frameTops[k];
  const title = svg.append("text").attr("x", 9).attr("y", titleBaselines[k]).attr("font-size", 30);
  title.append("tspan").attr("font-weight", "bold").text(tag);
  title.append("tspan").text(" " + sectionNames[k]);

  studies.forEach((study, s) => {
    const L = frameLeft[s], W = panelW[s];
    const g = svg.append("g");
    g.append("text").attr("x", studyTitleX[s]).attr("y", T - 58)
      .attr("text-anchor", "middle").attr("font-weight", "bold").attr("font-size", 26).text(study);

    const y = d3.scaleLinear().domain(yDomain).range([T + FRAME_H, T]);

    arms.forEach((arm, i) => {
      const x0 = L + i * W;
      const x = d3.scaleLinear().domain(xDomain).range([x0, x0 + W]);
      const r = corrBySection[k][s][i];
      const [cx, cy, a, b] = ellBySection[k][s][i];
      const pts = pointsBySection[k][s][i];

      // panel header
      g.append("text").attr("x", x0 + W / 2).attr("y", T - 7).attr("text-anchor", "middle")
        .attr("font-size", 22).text(arm);

      // clip
      const cid = `clip-${k}-${s}-${i}`;
      defs.append("clipPath").attr("id", cid).append("rect")
        .attr("x", x0).attr("y", T).attr("width", W).attr("height", y(-100) - T);

      // ellipse
      const sq = Math.sqrt(1 - r * r);
      const ts = d3.range(0, 361).map(d => d * Math.PI / 180);
      const ellPts = ts.map(t => [cx + a * Math.cos(t), cy + b * (r * Math.cos(t) + sq * Math.sin(t))]);
      g.append("path").attr("clip-path", `url(#${cid})`)
        .attr("d", d3.line().x(d => x(d[0])).y(d => y(d[1]))(ellPts))
        .attr("fill", "none").attr("stroke", ellColor).attr("stroke-width", 1.1);

      // points
      g.append("g").selectAll("circle").data(pts).join("circle")
        .attr("cx", d => x(d[0])).attr("cy", d => y(d[1])).attr("r", 3.9)
        .attr("fill", dotColors[s]);

      // correlation text
      g.append("text").attr("x", x0 + W / 2).attr("y", T + 28.5).attr("text-anchor", "middle")
        .attr("font-size", 20).text(`Correlation (r)=${r.toFixed(3)}`);

      // panel frame
      g.append("rect").attr("x", x0).attr("y", T).attr("width", W).attr("height", FRAME_H)
        .attr("fill", "none").attr("stroke", frameColor).attr("stroke-width", 1.4);

      // x axis
      const xa = g.append("g").attr("transform", `translate(0,${T + FRAME_H})`)
        .call(d3.axisBottom(x).tickValues(xTicks).tickSize(10).tickPadding(14).tickFormat(fmt));
      xa.select(".domain").remove();
      xa.selectAll("line").attr("stroke", frameColor).attr("stroke-width", 1.6);
      xa.selectAll("text").attr("font-size", 20).attr("font-weight", "bold")
        .attr("font-family", '"Liberation Sans",Arial,sans-serif').attr("fill", "#000");
      xa.attr("font-family", null).attr("font-size", null);

      if (i === 0) {
        const ya = g.append("g").attr("transform", `translate(${L},0)`)
          .call(d3.axisLeft(y).tickValues(yTicks).tickSize(8).tickPadding(5).tickFormat(fmt));
        ya.select(".domain").remove();
        ya.selectAll("line").attr("stroke", frameColor).attr("stroke-width", 1.6);
        ya.selectAll("text").attr("font-size", 20).attr("font-weight", "bold")
          .attr("font-family", '"Liberation Sans",Arial,sans-serif').attr("fill", "#000");
        ya.attr("font-family", null).attr("font-size", null);
      }
    });

    // outer frame
    g.append("rect").attr("x", L).attr("y", T).attr("width", 3 * W).attr("height", FRAME_H)
      .attr("fill", "none").attr("stroke", frameColor).attr("stroke-width", 2);

    // x label
    g.append("text").attr("x", L + 1.5 * W + 4).attr("y", T + 436).attr("text-anchor", "middle")
      .attr("font-size", 23).text(xLabel);

    // y label
    yAxisLabels[k].forEach((line, j) => {
      g.append("text")
        .attr("transform", `translate(${L + yLabelOffsets[k][j]},${T + 176}) rotate(-90)`)
        .attr("dy", "0.35em").attr("text-anchor", "middle")
        .attr("font-size", 22).attr("font-weight", "bold").text(line);
    });
  });
});
</script>
</body></html>
